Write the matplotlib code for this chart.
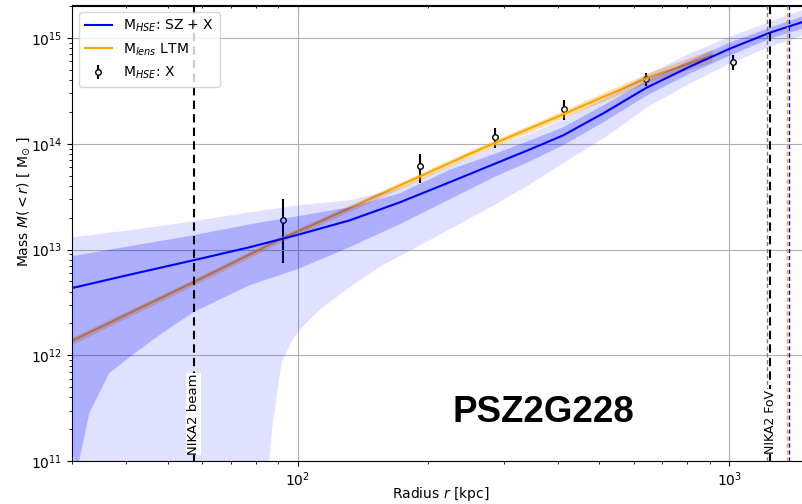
import numpy as np
import matplotlib.pyplot as plt
from matplotlib.lines import Line2D

# radii in kpc, masses as log10(M / Msun)
r_grid = np.array([29.9, 40.7, 57.3, 77.3, 99.8, 131.8, 172.2, 224.9, 287.5,
                   344.9, 411.4, 514.7, 644.2, 810.5, 1003.7, 1243, 1538])
logm_hse = np.array([12.634, 12.761, 12.898, 13.021, 13.138, 13.275, 13.445, 13.636, 13.814,
                     13.946, 14.078, 14.296, 14.532, 14.730, 14.900, 15.051, 15.174])
logm_1s_hi = np.array([12.936, 13.030, 13.134, 13.238, 13.314, 13.399, 13.530, 13.753, 13.908,
                       14.031, 14.154, 14.371, 14.598, 14.787, 14.957, 15.098, 15.230])
logm_2s_hi = np.array([13.115, 13.181, 13.266, 13.351, 13.417, 13.465, 13.578, 13.786, 13.975,
                       14.097, 14.229, 14.428, 14.655, 14.853, 15.013, 15.155, 15.287])

r_1s_lo = np.array([29.9, 30.8, 32.9, 36.6, 41.1, 47.8, 57.3, 77.3, 99.8, 131.8, 172.2,
                    224.9, 287.5, 344.9, 411.4, 514.7, 644.2, 810.5, 1003.7, 1243, 1538])
logm_1s_lo = np.array([11.123, 10.90, 11.453, 11.831, 11.992, 12.190, 12.407, 12.662, 12.813,
                       13.021, 13.238, 13.474, 13.691, 13.833, 13.984, 14.211, 14.456,
                       14.664, 14.834, 14.994, 15.108])

r_2s_lo = np.array([29.9, 84.0, 85.96, 87.35, 91.67, 97.21, 100.9, 113.5, 131.8, 157.2, 188.6,
                    224.9, 287.5, 344.9, 411.4, 514.7, 644.2, 810.5, 1003.7, 1243, 1538])
logm_2s_lo = np.array([10.5, 10.5, 11.0, 11.321, 11.925, 12.143, 12.237, 12.445, 12.643,
                       12.851, 13.021, 13.191, 13.427, 13.616, 13.814, 14.059, 14.343,
                       14.570, 14.758, 14.919, 15.042])

# lensing LTM profile
r_lens = np.array([29.9, 57.3, 92.6, 113.5, 188.6, 264.0, 411.4, 640.8, 911.8])
logm_lens = np.array([12.133, 12.690, 13.110, 13.271, 13.677, 13.946, 14.277, 14.617, 14.834])
dlog_lens = np.array([0.035, 0.03, 0.03, 0.03, 0.03, 0.03, 0.035, 0.045, 0.06])

# X-ray only HSE points (mass in 1e14 Msun)
r_x = np.array([92.6, 191.7, 287.0, 413.5, 640.8, 1021.6])
m_x = np.array([0.189, 0.615, 1.153, 2.14, 4.11, 5.98])
m_x_err = np.array([0.114, 0.185, 0.25, 0.455, 0.59, 0.99])

r_beam = 57.4
r_fov = 1243
r_fov2 = 1225
r500_lens = 1361
r500_hse = 1375

fig = plt.figure(figsize=(8.02, 5.04), dpi=100)
ax = fig.add_axes([72/802, 1 - 461/504, (810 - 72)/802, (461 - 5.5)/504])
ax.set_xscale('log')
ax.set_yscale('log')

ax.errorbar(r_x, m_x*1e14, yerr=m_x_err*1e14, fmt='o', color='k', mfc='white',
            mec='k', ms=4, elinewidth=1.5, capsize=0, zorder=1)

ax.fill_between(r_lens, 10**(logm_lens - dlog_lens), 10**(logm_lens + dlog_lens),
                color='orange', alpha=0.35, lw=0, zorder=2)
ax.plot(r_lens, 10**logm_lens, color='orange', lw=1.5, zorder=2)

ax.fill(np.concatenate([r_grid, r_2s_lo[::-1]]),
        np.concatenate([10**logm_2s_hi, 10**logm_2s_lo[::-1]]),
        color='blue', alpha=0.12, lw=0, zorder=3)
ax.fill(np.concatenate([r_grid, r_1s_lo[::-1]]),
        np.concatenate([10**logm_1s_hi, 10**logm_1s_lo[::-1]]),
        color='blue', alpha=0.22, lw=0, zorder=3)
ax.plot(r_grid, 10**logm_hse, color='blue', lw=1.5, zorder=4)

ax.axvline(r_beam, color='k', ls=(0, (4, 2.5)), lw=1.5, zorder=5)
ax.axvline(r_fov2, color='grey', ls=(0, (3, 2)), lw=1, zorder=5)
ax.axvline(r_fov, color='k', ls=(0, (4, 2.5)), lw=1.5, zorder=5)
ax.axvline(r500_lens, color='orange', ls=(0, (3, 2)), lw=1, zorder=5)
ax.axvline(r500_hse, color='blue', ls=(0, (3, 2)), lw=1, zorder=5)

ax.text(r_beam, 2.78e11, 'NIKA2 beam', rotation=90, ha='center', va='center',
        fontsize=9.5, bbox=dict(fc='white', ec='none', pad=0.5), zorder=6)
ax.text(r_fov, 2.36e11, 'NIKA2 FoV', rotation=90, ha='center', va='center',
        fontsize=9, bbox=dict(fc='white', ec='none', pad=0.5), zorder=6)

ax.set_xlim(30, 1538)
ax.set_ylim(1e11, 2.03e15)
ax.grid(True, which='major', color='#b0b0b0', lw=0.8)
ax.spines['right'].set_visible(False)

top = ax.secondary_xaxis('top')
top.tick_params(which='both', direction='in', labeltop=False)

ax.set_xlabel('Radius $r$ [kpc]', fontsize=10)
ax.xaxis.set_label_coords(0.5, -0.052)
ax.set_ylabel('Mass $M(<r)$ [ M$_{\\odot}$ ]', fontsize=10)
ax.yaxis.set_label_coords(-0.054, 0.57)

handles = [Line2D([], [], color='blue', lw=1.5),
           Line2D([], [], color='orange', lw=1.5),
           ax.errorbar([], [], yerr=[], fmt='o', color='k', mfc='white', mec='k', ms=4)]
ax.legend(handles, ['M$_{HSE}$: SZ + X', 'M$_{lens}$ LTM', 'M$_{HSE}$: X'],
          loc='upper left', fontsize=10)

fig.text(543/802, 1 - 412/504, 'PSZ2G228', fontsize=26.5, fontweight='bold',
         family='Liberation Sans', ha='center', va='center')

fig.savefig('out.png', dpi=100)
